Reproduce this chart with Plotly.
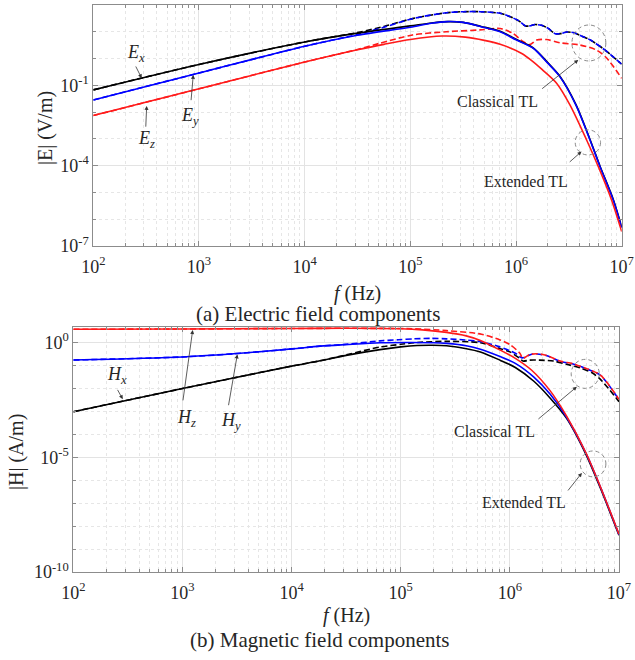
import plotly.graph_objects as go

# ---------------------------------------------------------------------------
# Field spectra, stored as powers of ten: log10(f / Hz) and log10(|field|)
# "ext" = extended TL model (solid), "cls" = classical TL model (dashed)
# ---------------------------------------------------------------------------

# (a) Electric field |E| (V/m)
ex_ext_f = [2, 3, 4, 4.5, 5, 5.2, 5.36, 5.5, 5.67, 5.85, 6.0, 6.163, 6.3, 6.415, 6.566, 6.70, 6.794, 6.92, 7.0]
ex_ext_v = [-1.17, -0.22, 0.62, 0.95, 1.22, 1.33, 1.38, 1.35, 1.20, 1.02, 0.72, 0.40, -0.15, -0.66, -1.71, -3.02, -4.01, -5.26, -6.29]

ey_ext_f = [2, 3, 4, 4.5, 5, 5.2, 5.35, 5.5, 5.67, 5.85, 6.0, 6.163, 6.3, 6.415, 6.566, 6.70, 6.794, 6.92, 7.0]
ey_ext_v = [-1.545, -0.54, 0.46, 0.87, 1.17, 1.32, 1.38, 1.35, 1.19, 1.0, 0.70, 0.384, -0.17, -0.675, -1.73, -3.04, -4.03, -5.28, -6.32]

ez_ext_f = [2, 3, 4, 4.5, 4.75, 5, 5.3, 5.52, 5.7, 5.85, 6.05, 6.163, 6.25, 6.384, 6.51, 6.668, 6.778, 6.904, 7.0]
ez_ext_v = [-2.13, -1.13, -0.13, 0.33, 0.53, 0.71, 0.84, 0.80, 0.68, 0.53, 0.20, -0.12, -0.42, -0.92, -1.73, -3.04, -4.03, -5.28, -6.46]

ex_cls_f = [2, 3, 4, 4.5, 4.75, 5.03, 5.34, 5.5, 5.66, 5.85, 5.94, 6.03, 6.09, 6.13, 6.18, 6.24, 6.3, 6.37, 6.42, 6.48, 6.55, 6.62, 6.7, 6.8, 6.9, 7.0]
ex_cls_v = [-1.17, -0.22, 0.62, 0.97, 1.2, 1.5, 1.71, 1.75, 1.75, 1.69, 1.57, 1.40, 1.22, 1.22, 1.27, 1.24, 1.14, 0.93, 0.93, 0.99, 0.96, 0.84, 0.70, 0.44, 0.13, -0.21]

ey_cls_f = [2, 3, 4, 4.5, 4.75, 5.03, 5.34, 5.5, 5.66, 5.85, 5.94, 6.03, 6.09, 6.13, 6.18, 6.24, 6.3, 6.37, 6.42, 6.48, 6.55, 6.62, 6.7, 6.8, 6.9, 7.0]
ey_cls_v = [-1.545, -0.54, 0.46, 0.90, 1.17, 1.5, 1.71, 1.75, 1.75, 1.69, 1.57, 1.40, 1.22, 1.22, 1.27, 1.24, 1.14, 0.93, 0.93, 0.99, 0.96, 0.84, 0.70, 0.44, 0.13, -0.21]

ez_cls_f = [2, 3, 4, 4.5, 4.71, 5.02, 5.34, 5.66, 5.85, 5.97, 6.07, 6.13, 6.195, 6.29, 6.415, 6.6, 6.76, 6.86, 7.0]
ez_cls_v = [-2.13, -1.13, -0.13, 0.34, 0.57, 0.88, 1.0, 1.07, 1.12, 0.94, 0.63, 0.52, 0.69, 0.71, 0.59, 0.51, 0.32, 0.01, -0.74]

# (b) Magnetic field |H| (A/m)
hx_ext_f = [2, 3, 4, 4.26, 4.5, 4.81, 5.0, 5.15, 5.3, 5.42, 5.59, 5.73, 5.91, 6.05, 6.22, 6.37, 6.52, 6.7, 6.83, 7.0]
hx_ext_v = [-3.01, -2.0, -1.02, -0.79, -0.55, -0.30, -0.18, -0.12, -0.11, -0.13, -0.25, -0.40, -0.76, -1.08, -1.68, -2.42, -3.3, -4.9, -6.35, -8.4]

hy_ext_f = [2, 3, 3.5, 4, 4.26, 4.5, 4.81, 5.1, 5.3, 5.42, 5.6, 5.73, 5.91, 6.05, 6.22, 6.37, 6.52, 6.7, 6.83, 7.0]
hy_ext_v = [-0.755, -0.62, -0.47, -0.27, -0.15, -0.08, 0.0, 0.01, 0.0, -0.03, -0.13, -0.28, -0.60, -0.90, -1.5, -2.25, -3.25, -4.85, -6.3, -8.37]

hz_ext_f = [2, 3, 4, 4.5, 5, 5.2, 5.42, 5.6, 5.73, 5.91, 6.05, 6.2, 6.37, 6.52, 6.7, 6.83, 7.0]
hz_ext_v = [0.585, 0.60, 0.62, 0.63, 0.61, 0.56, 0.45, 0.30, 0.10, -0.32, -0.68, -1.2, -2.1, -3.2, -4.83, -6.29, -8.35]

hx_cls_f = [2, 3, 4, 4.26, 4.5, 4.81, 5.0, 5.12, 5.42, 5.73, 5.91, 6.0, 6.09, 6.12, 6.18, 6.27, 6.4, 6.52, 6.64, 6.75, 6.83, 7.0]
hx_cls_v = [-3.01, -2.0, -1.02, -0.79, -0.53, -0.19, -0.07, 0.0, 0.06, 0.0, -0.26, -0.4, -0.68, -0.80, -0.76, -0.76, -0.80, -0.94, -1.09, -1.3, -1.6, -2.57]

hy_cls_f = [2, 3, 3.5, 4, 4.26, 4.5, 4.81, 4.98, 5.12, 5.28, 5.42, 5.59, 5.73, 5.9, 6.05, 6.11, 6.2, 6.25, 6.34, 6.46, 6.58, 6.71, 6.83, 7.0]
hy_cls_v = [-0.755, -0.62, -0.47, -0.27, -0.15, -0.07, 0.08, 0.13, 0.17, 0.19, 0.17, 0.12, 0.05, -0.17, -0.46, -0.66, -0.5, -0.49, -0.57, -0.81, -0.93, -1.15, -1.42, -2.49]

hz_cls_f = [2, 3, 4, 4.5, 5.0, 5.12, 5.42, 5.74, 5.91, 6.0, 6.09, 6.12, 6.18, 6.25, 6.34, 6.46, 6.58, 6.71, 6.83, 7.0]
hz_cls_v = [0.585, 0.60, 0.62, 0.63, 0.62, 0.61, 0.53, 0.37, 0.12, -0.08, -0.45, -0.68, -0.52, -0.48, -0.56, -0.80, -0.92, -1.14, -1.41, -2.47]

# Axis ticks
x_decades = [2, 3, 4, 5, 6, 7]
e_major = [-7, -4, -1, 2]
h_major = [-10, -5, 0]

BLACK, BLUE, RED = "#000000", "#0000ff", "#ff1a1a"
FONT = "Liberation Serif, Times New Roman, serif"
TXT = "#262626"
AX = "#8c8c8c"


def pw(vals):
    return [10.0 ** v for v in vals]


fig = go.Figure()


def add_curve(fx, fv, color, dashed, xa, ya):
    fig.add_trace(go.Scatter(
        x=pw(fx), y=pw(fv), mode="lines", xaxis=xa, yaxis=ya,
        line=dict(color=color, width=1.6, dash="6px,3px" if dashed else "solid",
                  shape="spline", smoothing=0.8),
        showlegend=False, hoverinfo="skip"))


# (a) electric field
add_curve(ex_cls_f, ex_cls_v, BLACK, True, "x", "y")
add_curve(ey_cls_f, ey_cls_v, BLUE, True, "x", "y")
add_curve(ez_cls_f, ez_cls_v, RED, True, "x", "y")
add_curve(ex_ext_f, ex_ext_v, BLACK, False, "x", "y")
add_curve(ey_ext_f, ey_ext_v, BLUE, False, "x", "y")
add_curve(ez_ext_f, ez_ext_v, RED, False, "x", "y")

# (b) magnetic field
add_curve(hx_cls_f, hx_cls_v, BLACK, True, "x2", "y2")
add_curve(hy_cls_f, hy_cls_v, BLUE, True, "x2", "y2")
add_curve(hz_cls_f, hz_cls_v, RED, True, "x2", "y2")
add_curve(hx_ext_f, hx_ext_v, BLACK, False, "x2", "y2")
add_curve(hy_ext_f, hy_ext_v, BLUE, False, "x2", "y2")
add_curve(hz_ext_f, hz_ext_v, RED, False, "x2", "y2")


def sup_label(e):
    return "10<sup>%d</sup>" % e


x_minor = [m * 10.0 ** d for d in x_decades[:-1] for m in range(2, 10)]

common_axis = dict(
    type="log", automargin=False, showline=True, linecolor=AX, linewidth=1, mirror="allticks",
    ticks="inside", ticklen=5, tickcolor=AX,
    showgrid=True, gridcolor="#e3e3e3", gridwidth=1, zeroline=False,
    tickfont=dict(family=FONT, size=18, color=TXT),
)

x_common = dict(common_axis,
                tickvals=pw(x_decades), ticktext=[sup_label(d) for d in x_decades],
                range=[2, 7], ticklabelstandoff=4,
                minor=dict(tickvals=x_minor, ticks="inside", ticklen=3, tickcolor=AX,
                           showgrid=True, gridcolor="#e6e6e6", griddash="dot"))

e_minor = [10.0 ** d for d in range(-7, 3) if d not in e_major]
h_minor = [10.0 ** d for d in range(-10, 1) if d not in h_major]

fig.update_layout(
    width=635, height=660, margin=dict(l=0, r=0, t=0, b=0, autoexpand=False),
    paper_bgcolor="white", plot_bgcolor="white",
    xaxis=dict(x_common, domain=[93.3 / 635, 621.7 / 635], anchor="y"),
    yaxis=dict(common_axis, domain=[1 - 246 / 660, 1 - 5 / 660], anchor="x",
               range=[-7, 2], tickvals=pw(e_major), ticktext=[sup_label(d) for d in e_major],
               ticklabelstandoff=0,
               minor=dict(tickvals=e_minor, ticks="inside", ticklen=3, tickcolor=AX,
                          showgrid=True, gridcolor="#e6e6e6", griddash="dot")),
    xaxis2=dict(x_common, domain=[73.3 / 635, 619 / 635], anchor="y2"),
    yaxis2=dict(common_axis, domain=[1 - 572 / 660, 1 - 327 / 660], anchor="x2",
                range=[-10, 0.686], tickvals=pw(h_major), ticktext=[sup_label(d) for d in h_major],
                ticklabelstandoff=0,
                minor=dict(tickvals=h_minor, ticks="inside", ticklen=3, tickcolor=AX,
                           showgrid=True, gridcolor="#e6e6e6", griddash="dot")),
)

ann = []


def paper_text(text, px, py, size, angle=0):
    ann.append(dict(text=text, x=px / 635, y=1 - py / 660, xref="paper", yref="paper",
                    showarrow=False, textangle=angle, xanchor="center", yanchor="middle",
                    font=dict(family=FONT, size=size, color=TXT)))


def data_text(text, lx, ly, xa, ya, size=18):
    ann.append(dict(text=text, x=lx, y=ly, xref=xa, yref=ya, showarrow=False,
                    xanchor="center", yanchor="middle",
                    font=dict(family=FONT, size=size, color=TXT)))


def arrow(tail, head, xa, ya):
    ann.append(dict(text="", x=head[0], y=head[1], ax=tail[0], ay=tail[1],
                    xref=xa, yref=ya, axref=xa, ayref=ya, showarrow=True,
                    arrowhead=2, arrowsize=1.0, arrowwidth=0.8, arrowcolor="#333333",
                    standoff=0, startstandoff=0))


# axis titles and captions
paper_text("|E| (V/m)", 45, 128, 20, -90)
paper_text("<i>f</i> (Hz)", 357.5, 293, 20)
paper_text("(a) Electric field components", 318, 314, 21)
paper_text("|H| (A/m)", 16, 452, 20, -90)
paper_text("<i>f</i> (Hz)", 346, 615, 20)
paper_text("(b) Magnetic field components", 320, 640, 21)

# component labels, (a)
data_text("<i>E</i><sub><i>x</i></sub>", 2.40, 0.17, "x", "y")
arrow((2.395, -0.24), (2.458, -0.735), "x", "y")
data_text("<i>E</i><sub><i>y</i></sub>", 2.915, -2.18, "x", "y")
arrow((2.924, -1.61), (2.946, -0.61), "x", "y")
data_text("<i>E</i><sub><i>z</i></sub>", 2.505, -3.04, "x", "y")
arrow((2.496, -2.6), (2.505, -1.77), "x", "y")
data_text("Classical TL", 5.826, -1.61, "x", "y", 16)
arrow((6.233, -1.17), (6.589, -0.05), "x", "y")
data_text("Extended TL", 6.09, -4.59, "x", "y", 16)
arrow((6.494, -3.91), (6.62, -3.47), "x", "y")

# component labels, (b)
data_text("<i>H</i><sub><i>x</i></sub>", 2.40, -1.41, "x2", "y2")
arrow((2.398, -1.99), (2.453, -2.46), "x2", "y2")
data_text("<i>H</i><sub><i>z</i></sub>", 3.033, -3.29, "x2", "y2")
arrow((3.003, -2.58), (3.094, 0.555), "x2", "y2")
data_text("<i>H</i><sub><i>y</i></sub>", 3.445, -3.42, "x2", "y2")
arrow((3.42, -2.79), (3.503, -0.51), "x2", "y2")
data_text("Classical TL", 5.856, -3.86, "x2", "y2", 16)
arrow((6.248, -3.38), (6.614, -1.92), "x2", "y2")
data_text("Extended TL", 6.125, -6.99, "x2", "y2", 16)
arrow((6.522, -6.51), (6.66, -5.68), "x2", "y2")

fig.update_layout(annotations=ann)

# dashed highlight circles (log10 bounds)
circles = [
    ("x", "y", 6.529, 6.85, -0.09, 1.254),
    ("x", "y", 6.56, 6.80, -3.60, -2.66),
    ("x2", "y2", 6.562, 6.819, -1.99, -0.725),
    ("x2", "y2", 6.644, 6.88, -5.85, -4.72),
]
for xa, ya, x0, x1, y0, y1 in circles:
    fig.add_shape(type="circle", xref=xa, yref=ya,
                  x0=10 ** x0, x1=10 ** x1, y0=10 ** y0, y1=10 ** y1,
                  line=dict(color="#8a8a8a", width=1, dash="4px,3px"))

fig.write_html("out.html")
